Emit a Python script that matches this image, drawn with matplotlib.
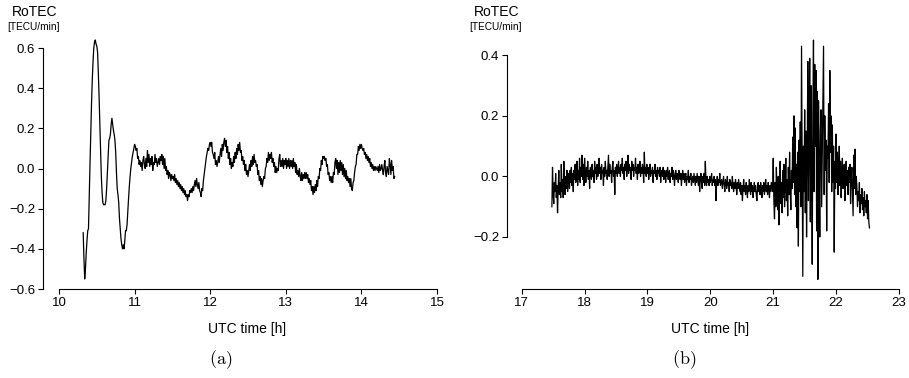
import numpy as np
import matplotlib
matplotlib.use("Agg")
import matplotlib.pyplot as plt

plt.rcParams['font.family'] = ['Liberation Sans', 'DejaVu Sans']
plt.rcParams['mathtext.fontset'] = 'cm'

# ---------------- data: panel (a) ----------------
a_t0 = 10.32
a_dt = 0.01
a_vals = [
    # 10.32 - 11.00
    -0.32, -0.45, -0.55, -0.50, -0.42, -0.36, -0.31, -0.30, -0.15, 0.02,
    0.18, 0.32, 0.44, 0.53, 0.60, 0.63, 0.64, 0.62, 0.61, 0.58,
    0.48, 0.36, 0.22, 0.08, -0.04, -0.12, -0.17, -0.18, -0.18, -0.18,
    -0.16, -0.10, -0.02, 0.07, 0.14, 0.15, 0.17, 0.22, 0.25, 0.22,
    0.19, 0.17, 0.14, 0.08, -0.02, -0.10, -0.13, -0.17, -0.25, -0.30,
    -0.35, -0.38, -0.40, -0.38, -0.40, -0.36, -0.31, -0.31, -0.28, -0.21,
    -0.15, -0.09, -0.04, 0.00, 0.03, 0.06, 0.08, 0.10, 0.12,
    # 11.01 - 11.50
    0.11, 0.09, 0.10, 0.05, 0.06, 0.02, 0.04, 0.01, 0.03, -0.01,
    0.04, 0.06, 0.02, 0.00, 0.05, 0.01, 0.09, 0.03, 0.07, 0.01,
    0.05, 0.02, 0.06, -0.01, 0.03, 0.02, 0.07, 0.03, 0.05, 0.01,
    0.03, 0.05, 0.02, 0.06, 0.04, 0.07, 0.02, 0.06, 0.00, 0.05,
    -0.01, 0.01, -0.03, -0.01, -0.05, -0.02, -0.03, -0.06, -0.03, -0.05,
    # 11.51 - 12.00
    -0.04, -0.06, -0.03, -0.07, -0.05, -0.08, -0.06, -0.09, -0.07, -0.10,
    -0.08, -0.11, -0.09, -0.12, -0.10, -0.13, -0.11, -0.14, -0.13, -0.16,
    -0.13, -0.14, -0.11, -0.12, -0.10, -0.12, -0.09, -0.11, -0.08, -0.06,
    -0.09, -0.05, -0.08, -0.10, -0.07, -0.11, -0.12, -0.14, -0.10, -0.11,
    -0.06, -0.03, 0.00, 0.03, 0.06, 0.08, 0.10, 0.09, 0.12, 0.13,
    # 12.01 - 12.50
    0.11, 0.13, 0.08, 0.07, 0.05, 0.08, 0.02, 0.04, 0.01, 0.03,
    0.06, 0.03, 0.07, 0.10, 0.06, 0.12, 0.09, 0.13, 0.15, 0.11,
    0.14, 0.08, 0.11, 0.05, 0.08, 0.02, 0.05, 0.00, 0.03, 0.01,
    0.06, 0.03, 0.08, 0.05, 0.10, 0.07, 0.12, 0.09, 0.13, 0.08,
    0.09, 0.04, 0.06, 0.02, 0.04, -0.01, 0.02, -0.03, -0.01, -0.04,
    # 12.51 - 13.00
    -0.01, 0.02, -0.01, 0.04, 0.01, 0.06, 0.02, 0.07, 0.03, 0.04,
    0.01, 0.02, -0.03, -0.01, -0.06, -0.04, -0.08, -0.05, -0.09, -0.06,
    -0.04, -0.05, 0.00, 0.01, 0.05, 0.03, 0.08, 0.04, 0.07, 0.05,
    0.08, 0.03, 0.05, 0.01, 0.03, -0.02, 0.01, -0.02, 0.00, -0.01,
    0.05, 0.07, 0.01, 0.04, 0.01, 0.05, 0.00, 0.04, 0.02, 0.05,
    # 13.01 - 13.50
    0.00, 0.04, 0.01, 0.05, 0.00, 0.04, 0.01, 0.04, 0.00, 0.05,
    0.01, 0.03, -0.02, 0.02, -0.03, -0.01, -0.04, 0.00, -0.04, -0.06,
    -0.02, -0.06, -0.03, -0.05, -0.02, -0.05, -0.02, -0.05, -0.03, -0.07,
    -0.05, -0.08, -0.06, -0.11, -0.09, -0.13, -0.09, -0.12, -0.08, -0.11,
    -0.06, -0.09, -0.04, -0.05, 0.00, -0.01, 0.04, 0.02, 0.06, 0.05,
    # 13.51 - 14.00
    0.06, 0.04, 0.05, 0.01, 0.02, -0.03, -0.02, -0.06, -0.04, -0.07,
    -0.04, -0.07, -0.02, -0.03, 0.03, 0.05, 0.00, 0.04, -0.03, 0.03,
    -0.02, 0.04, -0.01, 0.03, -0.03, 0.02, -0.04, 0.00, -0.05, -0.01,
    -0.06, -0.04, -0.07, -0.05, -0.09, -0.05, -0.10, -0.11, -0.07, -0.06,
    -0.02, 0.01, 0.02, 0.07, 0.07, 0.11, 0.09, 0.12, 0.10, 0.12,
    # 14.01 - 14.44
    0.10, 0.09, 0.10, 0.07, 0.08, 0.05, 0.07, 0.04, 0.06, 0.03,
    0.05, 0.01, 0.03, 0.00, 0.02, -0.01, 0.01, -0.01, 0.01, 0.00,
    -0.01, 0.01, -0.02, 0.02, -0.01, 0.00, 0.02, -0.01, -0.03, 0.01,
    0.04, -0.02, -0.04, 0.01, -0.01, -0.03, 0.05, 0.02, -0.03, 0.04,
    -0.01, 0.01, -0.05, -0.04,
]

# ---------------- data: panel (b) ----------------
b_t0 = 17.48
b_dt = 0.01
b_vals = [
    # 17.48 - 17.97
    -0.10, 0.03, -0.06, -0.09, -0.02, -0.05, 0.01, -0.07, -0.03, -0.12,
    -0.04, 0.02, -0.06, -0.02, -0.07, 0.04, -0.05, -0.01, -0.07, 0.05,
    -0.03, -0.06, 0.00, -0.04, 0.02, -0.05, -0.01, 0.01, -0.04, 0.02,
    -0.02, 0.03, -0.03, 0.01, -0.05, 0.02, -0.01, 0.04, -0.02, 0.00,
    0.05, -0.03, 0.02, -0.01, 0.06, -0.02, 0.03, 0.00, 0.07, -0.01,
    # 17.98 - 18.47
    0.04, -0.03, 0.06, 0.01, -0.02, 0.03, 0.00, 0.05, -0.01, 0.02,
    -0.04, 0.03, 0.01, -0.01, 0.04, 0.00, 0.02, -0.02, 0.05, 0.01,
    0.03, -0.01, 0.04, 0.00, 0.02, 0.06, 0.01, 0.03, -0.01, 0.04,
    0.01, 0.02, -0.03, 0.03, 0.00, 0.05, 0.01, 0.02, -0.01, 0.03,
    0.07, 0.00, 0.04, 0.01, 0.02, -0.02, 0.03, 0.05, 0.00, 0.02,
    # 18.48 - 18.97
    -0.06, 0.03, 0.01, 0.04, 0.00, 0.02, 0.05, 0.01, 0.03, 0.00,
    0.04, 0.02, 0.06, 0.01, 0.03, -0.01, 0.04, 0.02, 0.05, 0.00,
    0.03, 0.07, 0.01, 0.04, 0.02, 0.03, -0.01, 0.05, 0.02, 0.04,
    0.00, 0.03, 0.02, 0.06, 0.01, 0.03, -0.01, 0.04, 0.01, 0.02,
    0.05, 0.00, 0.03, 0.01, 0.04, 0.02, -0.02, 0.08, 0.01, 0.03,
    # 18.98 - 19.47
    0.00, 0.04, 0.01, 0.03, -0.01, 0.02, 0.04, 0.00, 0.02, 0.01,
    0.03, -0.02, 0.02, 0.01, 0.04, 0.00, 0.02, -0.01, 0.03, 0.01,
    0.02, 0.00, 0.03, -0.02, 0.01, 0.02, 0.00, 0.03, -0.01, 0.02,
    0.01, -0.02, 0.02, 0.00, 0.03, -0.01, 0.01, 0.02, -0.02, 0.01,
    0.00, 0.03, -0.01, 0.02, 0.00, -0.03, 0.01, 0.02, -0.01, 0.01,
    # 19.48 - 19.97
    0.00, -0.02, 0.02, 0.00, -0.01, 0.01, -0.03, 0.00, 0.02, -0.01,
    0.01, -0.02, 0.00, 0.01, -0.03, 0.00, -0.01, 0.02, -0.02, 0.00,
    -0.01, 0.01, -0.03, -0.01, 0.00, -0.02, 0.01, -0.01, -0.03, 0.00,
    -0.02, 0.01, -0.01, -0.03, 0.00, -0.05, -0.01, 0.01, -0.02, -0.04,
    0.00, -0.02, 0.01, -0.03, 0.05, -0.01, -0.03, 0.00, -0.02, -0.01,
    # 19.98 - 20.47
    -0.03, 0.00, -0.02, -0.01, 0.01, -0.03, -0.01, -0.02, 0.00, -0.03,
    -0.01, -0.08, -0.02, 0.00, -0.03, -0.01, -0.02, 0.01, -0.03, -0.02,
    -0.01, -0.04, -0.02, 0.00, -0.03, -0.05, -0.01, -0.02, -0.04, 0.00,
    -0.03, -0.02, -0.05, -0.01, -0.03, -0.02, -0.04, 0.00, -0.03, -0.05,
    -0.02, -0.04, -0.01, -0.03, -0.06, -0.02, -0.04, -0.01, -0.03, -0.05,
    # 20.48 - 20.97
    -0.02, -0.06, -0.03, -0.08, -0.04, -0.01, -0.05, -0.03, -0.06, -0.02,
    -0.04, -0.07, -0.03, -0.05, -0.01, -0.04, -0.06, -0.02, -0.05, -0.03,
    -0.07, -0.04, -0.02, -0.05, -0.03, -0.06, -0.08, -0.04, -0.02, -0.05,
    -0.03, -0.06, -0.02, -0.04, -0.07, -0.03, -0.05, -0.02, -0.06, -0.04,
    -0.01, -0.05, -0.03, -0.06, -0.02, -0.04, -0.07, -0.03, -0.05, -0.02,
    # 20.98 - 21.47
    -0.03, -0.05, 0.06, -0.08, -0.14, -0.02, -0.10, 0.03, -0.06, -0.11,
    0.00, -0.16, -0.04, 0.05, -0.09, -0.02, -0.12, 0.02, -0.07, 0.04,
    -0.10, -0.03, 0.06, -0.08, -0.01, -0.13, 0.03, -0.06, 0.08, -0.05,
    -0.11, 0.02, -0.04, 0.13, -0.02, 0.20, -0.06, 0.16, -0.10, 0.04,
    -0.17, 0.08, -0.23, 0.12, -0.05, 0.18, -0.10, 0.43, 0.02, -0.33,
    # 21.48 - 21.97
    0.10, -0.05, 0.22, -0.12, 0.15, -0.20, 0.06, 0.38, -0.08, 0.12,
    0.39, -0.15, 0.30, 0.05, -0.29, 0.20, 0.45, -0.05, 0.37, 0.10,
    0.35, -0.18, 0.28, -0.34, 0.25, 0.05, -0.20, 0.15, 0.22, -0.10,
    0.08, 0.25, 0.43, -0.06, 0.20, 0.02, 0.12, -0.18, 0.10, 0.06,
    0.24, -0.02, 0.35, 0.08, 0.20, -0.05, 0.17, -0.02, 0.10, -0.25,
    # 21.98 - 22.47
    0.05, -0.04, 0.14, -0.02, 0.08, -0.06, 0.03, 0.10, -0.03, 0.05,
    -0.07, 0.02, 0.06, -0.04, 0.01, 0.04, -0.08, 0.00, 0.05, -0.03,
    0.02, -0.06, 0.03, -0.02, 0.04, -0.09, -0.01, 0.03, -0.05, -0.13,
    0.07, -0.04, 0.09, -0.06, 0.00, -0.03, -0.10, -0.05, -0.08, -0.02,
    -0.12, -0.06, -0.09, -0.04, -0.11, -0.07, -0.13, -0.05, -0.10, -0.08,
    # 22.48 - 22.53
    -0.12, -0.06, -0.14, -0.08, -0.15, -0.17,
]

a_xticks = [10, 11, 12, 13, 14, 15]
a_yticks = [-0.6, -0.4, -0.2, 0.0, 0.2, 0.4, 0.6]
b_xticks = [17, 18, 19, 20, 21, 22, 23]
b_yticks = [-0.2, 0.0, 0.2, 0.4]

W, H = 909, 378
fig = plt.figure(figsize=(W / 100, H / 100), dpi=100)


def px_axes(l, r, t, b):
    return fig.add_axes([l / W, (H - b) / H, (r - l) / W, (b - t) / H])


def style(ax, xticks, yticks, xlim, ylim):
    ax.set_xlim(*xlim)
    ax.set_ylim(*ylim)
    for s in ('top', 'right'):
        ax.spines[s].set_visible(False)
    for s in ('left', 'bottom'):
        ax.spines[s].set_linewidth(0.8)
    ax.spines['left'].set_bounds(yticks[0], yticks[-1])
    ax.spines['bottom'].set_bounds(xticks[0], xticks[-1])
    ax.set_xticks(xticks)
    ax.set_yticks(yticks)
    ax.set_xticklabels([str(v) for v in xticks])
    ax.set_yticklabels([f"{v:.1f}".replace('-', '\u2212') for v in yticks])
    ax.tick_params(direction='out', length=3.5, width=0.8, labelsize=9.5, pad=2)
    ax.patch.set_visible(False)


# panel a
ax1 = px_axes(43, 440, 38, 289)
ta = a_t0 + a_dt * np.arange(len(a_vals))
ax1.plot(ta, a_vals, color='black', lw=0.9, clip_on=False)
style(ax1, a_xticks, a_yticks, (10 - 16 / 75.6, 15 + 3 / 75.6), (-0.6, 0.6 + 10 / 200.8))

# panel b
ax2 = px_axes(506.7, 902, 38, 289)
tb = b_t0 + b_dt * np.arange(len(b_vals))
ax2.plot(tb, b_vals, color='black', lw=0.9, clip_on=False)
style(ax2, b_xticks, b_yticks, (17 - 15 / 62.88, 23 + 3 / 62.88),
      (-0.2 - 52 / 302.8, 0.4 + 17.3 / 302.8))


def ftext(x, y, s, **kw):
    fig.text(x / W, 1 - y / H, s, ha='center', va='center', **kw)


for (cx, cx2, lx) in [(35, 33.3, 247.5), (497, 495.5, 710)]:
    ftext(cx, 12.3, "RoTEC", fontsize=10)
    ftext(cx2, 27.2, "[TECU/min]", fontsize=7.3)
    ftext(lx, 328.5, "UTC time [h]", fontsize=10)

ftext(221, 360, r"$\mathrm{(a)}$", fontsize=13)
ftext(683.7, 360, r"$\mathrm{(b)}$", fontsize=13)

fig.savefig("out.png", dpi=100)
